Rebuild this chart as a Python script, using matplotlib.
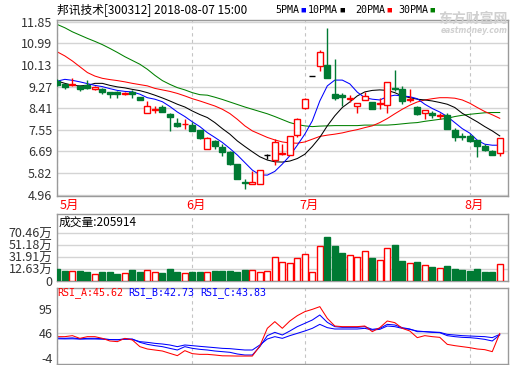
import matplotlib
matplotlib.use("Agg")
import matplotlib.pyplot as plt
from matplotlib.patches import Rectangle

plt.rcParams['font.family'] = ['Noto Sans CJK SC', 'DejaVu Sans']

# daily candles, 2018-05-02 .. 2018-08-07
opens = [9.51, 9.38, 9.33, 9.30, 9.32, 9.16, 9.19, 9.06, 9.06, 8.97,
         9.04, 8.86, 8.21, 8.35, 8.47, 8.20, 7.82, 7.77, 7.76, 7.55,
         6.78, 7.09, 6.85, 6.68, 6.19, 5.47, 5.41, 5.41, 6.55, 6.36,
         6.59, 6.56, 7.34, 8.41, 9.69, 10.09, 10.12, 8.97, 8.95, 8.76,
         8.50, 8.74, 8.64, 8.59, 8.53, 9.22, 9.19, 8.73, 8.45, 8.24,
         8.24, 8.12, 8.13, 7.54, 7.30, 7.31, 7.14, 6.91, 6.71, 6.62]
highs = [9.59, 9.39, 9.60, 9.31, 9.52, 9.28, 9.22, 9.07, 9.11, 9.05,
         9.12, 8.87, 8.68, 8.48, 8.54, 8.21, 8.04, 7.99, 7.86, 7.56,
         7.25, 7.15, 6.98, 6.70, 6.19, 5.59, 5.92, 5.95, 6.58, 7.18,
         6.98, 7.29, 8.01, 8.83, 9.69, 10.71, 11.61, 10.38, 9.03, 8.93,
         8.60, 9.06, 8.67, 8.83, 9.47, 9.92, 9.30, 9.16, 8.48, 8.33,
         8.30, 8.24, 8.21, 7.64, 7.42, 7.38, 7.14, 6.98, 6.73, 7.21]
lows = [9.30, 9.19, 9.30, 9.08, 9.19, 9.13, 8.99, 8.83, 8.83, 8.93,
        8.83, 8.74, 8.21, 8.21, 8.26, 7.52, 7.68, 7.59, 7.50, 7.19,
        6.78, 6.78, 6.52, 6.17, 5.59, 5.20, 5.40, 5.40, 6.40, 6.16,
        6.56, 6.56, 7.25, 8.37, 9.69, 9.89, 9.60, 8.74, 8.50, 8.64,
        8.21, 8.74, 8.37, 8.37, 8.24, 9.10, 8.56, 8.66, 8.13, 7.97,
        8.04, 8.00, 7.57, 7.10, 7.13, 7.07, 6.49, 6.71, 6.55, 6.52]
closes = [9.35, 9.27, 9.36, 9.16, 9.22, 9.27, 9.06, 8.98, 8.98, 9.03,
          8.99, 8.75, 8.48, 8.37, 8.27, 8.07, 7.70, 7.79, 7.52, 7.21,
          7.21, 6.92, 6.68, 6.19, 5.59, 5.44, 5.46, 5.94, 6.55, 7.05,
          6.63, 7.29, 8.00, 8.79, 9.69, 10.66, 9.63, 8.83, 8.87, 8.80,
          8.60, 8.90, 8.40, 8.63, 9.47, 9.19, 8.70, 8.76, 8.17, 8.33,
          8.14, 8.15, 7.57, 7.27, 7.27, 7.11, 6.91, 6.75, 6.56, 7.21]

ma5 = [9.49, 9.56, 9.52, 9.46, 9.39, 9.32, 9.27, 9.19, 9.12, 9.08,
       9.06, 8.97, 8.83, 8.77, 8.67, 8.48, 8.26, 8.08, 7.87, 7.68,
       7.44, 7.25, 7.05, 6.81, 6.55, 6.25, 5.95, 5.76, 5.75, 5.90,
       6.19, 6.52, 6.94, 7.38, 7.91, 8.70, 9.30, 9.53, 9.53, 9.38,
       9.05, 8.83, 8.77, 8.74, 8.87, 8.93, 8.90, 8.87, 8.79, 8.57,
       8.40, 8.26, 8.08, 7.84, 7.60, 7.42, 7.14, 6.98, 6.94, 6.94]
ma10 = [9.49, 9.40, 9.32, 9.30, 9.32, 9.40, 9.40, 9.32, 9.26, 9.22,
        9.16, 9.11, 9.03, 8.93, 8.82, 8.70, 8.57, 8.46, 8.30, 8.16,
        8.04, 7.84, 7.60, 7.38, 7.11, 6.89, 6.68, 6.48, 6.35, 6.28,
        6.27, 6.31, 6.41, 6.58, 6.89, 7.25, 7.71, 8.11, 8.44, 8.66,
        8.90, 9.06, 9.12, 9.14, 9.12, 9.03, 8.90, 8.83, 8.77, 8.74,
        8.70, 8.64, 8.57, 8.44, 8.21, 8.04, 7.87, 7.68, 7.51, 7.31]
ma20 = [10.65, 10.49, 10.29, 10.06, 9.83, 9.69, 9.60, 9.55, 9.51, 9.46,
        9.40, 9.35, 9.30, 9.20, 9.14, 9.08, 9.00, 8.90, 8.79, 8.70,
        8.60, 8.50, 8.37, 8.20, 7.97, 7.71, 7.51, 7.38, 7.25, 7.15,
        7.07, 7.03, 7.02, 7.07, 7.18, 7.29, 7.34, 7.38, 7.43, 7.50,
        7.56, 7.64, 7.71, 7.84, 8.00, 8.19, 8.37, 8.53, 8.66, 8.74,
        8.79, 8.83, 8.83, 8.81, 8.74, 8.61, 8.44, 8.28, 8.15, 8.01]
ma30 = [11.74, 11.61, 11.45, 11.32, 11.19, 11.07, 10.94, 10.79, 10.63, 10.46,
        10.31, 10.16, 9.96, 9.72, 9.51, 9.36, 9.23, 9.14, 9.03, 8.95,
        8.93, 8.85, 8.76, 8.66, 8.56, 8.46, 8.37, 8.28, 8.19, 8.08,
        7.96, 7.84, 7.76, 7.71, 7.68, 7.70, 7.71, 7.72, 7.72, 7.72,
        7.72, 7.74, 7.74, 7.74, 7.74, 7.76, 7.79, 7.82, 7.84, 7.89,
        7.93, 7.97, 8.01, 8.08, 8.13, 8.17, 8.20, 8.23, 8.24, 8.24]

# volume in 万 (10k lots)
volume = [11.26, 7.99, 8.55, 7.99, 6.37, 4.20, 6.37, 6.37, 3.11, 5.83,
          9.63, 6.37, 10.72, 6.37, 4.75, 11.26, 6.37, 5.83, 6.37, 6.37,
          7.46, 7.99, 7.99, 7.99, 6.37, 9.63, 10.72, 6.37, 9.09, 31.90,
          23.75, 22.12, 30.27, 36.79, 7.46, 49.82, 63.40, 48.74, 37.33, 35.16,
          31.90, 41.68, 29.18, 27.01, 46.56, 50.36, 24.30, 22.12, 22.67, 18.87,
          15.06, 12.89, 16.15, 11.26, 9.63, 7.99, 11.26, 6.37, 6.37, 20.59]

rsi_a = [39.3, 39.3, 41.3, 35.9, 39.3, 39.3, 35.9, 30.6, 29.3, 35.9,
         32.6, 19.3, 14.6, 12.6, 10.6, 5.9, 1.3, 11.3, 5.3, 3.9,
         3.9, 2.6, 1.0, 0.8, 0.5, 0.5, 0.5, 20.6, 56.0, 69.3,
         56.0, 70.6, 81.3, 89.3, 93.9, 99.3, 75.9, 60.6, 59.3, 59.3,
         59.3, 60.6, 49.3, 57.3, 70.6, 67.3, 56.0, 50.6, 37.3, 41.3,
         39.3, 37.9, 23.9, 21.3, 19.3, 17.3, 14.6, 13.3, 9.3, 45.62]
rsi_b = [36.5, 36.0, 36.8, 35.0, 35.9, 36.0, 35.2, 33.5, 33.0, 35.0,
         34.5, 27.9, 23.9, 21.3, 19.3, 15.9, 12.6, 19.3, 15.9, 13.9,
         12.6, 10.6, 9.3, 8.0, 4.6, 2.6, 2.6, 19.3, 41.3, 47.9,
         42.6, 50.6, 59.3, 65.9, 72.6, 82.6, 67.9, 59.3, 57.9, 57.9,
         57.9, 59.3, 53.9, 55.9, 63.9, 62.6, 57.3, 54.6, 49.3, 49.3,
         47.9, 47.3, 41.3, 39.3, 37.9, 37.3, 35.9, 33.9, 30.6, 42.73]
rsi_c = [35.0, 34.8, 35.0, 34.4, 34.6, 34.6, 34.2, 33.5, 33.2, 34.0,
         33.8, 29.3, 27.9, 25.9, 24.6, 22.6, 19.3, 22.6, 21.3, 19.9,
         18.6, 17.3, 15.9, 15.3, 13.9, 12.6, 12.6, 22.6, 34.6, 39.3,
         35.9, 41.3, 45.9, 50.6, 55.9, 63.9, 57.3, 54.6, 54.6, 54.6,
         54.6, 55.9, 52.6, 53.9, 60.6, 59.3, 55.9, 53.9, 50.6, 49.3,
         48.6, 47.9, 43.9, 42.6, 41.3, 40.6, 39.9, 39.3, 37.3, 43.83]

month_idx = [0, 18, 33, 55]
month_names = ['5月', '6月', '7月', '8月']
price_ticks = [4.96, 5.82, 6.69, 7.55, 8.41, 9.27, 10.13, 10.99, 11.85]
vol_ticks = [-6.65, 12.63, 31.91, 51.18, 70.46]
vol_labels = ['0', '12.63万', '31.91万', '51.18万', '70.46万']
rsi_ticks = [-4, 46, 95]

RED = '#ff0000'
GREEN = '#007a33'
FRAME = '#9a9a9a'
GRID = '#d4d4d4'
VLINE = '#c4c4c4'

W, H = 520, 365
fig = plt.figure(figsize=(W / 100, H / 100), dpi=100)


def box(l, t, r, b):
    return [l / W, 1 - b / H, (r - l) / W, (b - t) / H]


ax = fig.add_axes(box(56.5, 20, 508, 195.5))
axv = fig.add_axes(box(56.5, 214, 508, 280.5))
axr = fig.add_axes(box(56.5, 288, 508, 364))

n = len(closes)
for a in (ax, axv, axr):
    a.set_xlim(-0.12, n + 0.1)
    a.set_xticks([])
    for s in a.spines.values():
        s.set_color(FRAME)
        s.set_linewidth(1.0)
    a.tick_params(axis='y', length=0, pad=3, labelsize=9, labelcolor='#333333')
    for m in month_idx:
        a.axvline(m, color=VLINE, lw=0.8, ls=(0, (3, 3)), zorder=0)

# price panel
ax.set_ylim(4.94, 11.92)
ax.set_yticks(price_ticks)
ax.set_yticklabels(['%.2f' % t for t in price_ticks])
ax.grid(axis='y', color=GRID, lw=1.0, zorder=0)

bw = 0.8
for i in range(n):
    o, h, l, c = opens[i], highs[i], lows[i], closes[i]
    if c > o:
        col, face = RED, 'white'
    elif c < o:
        col, face = GREEN, GREEN
    else:
        col, face = 'black', 'black'
    top, bot = max(o, c), min(o, c)
    ax.vlines(i, top, h, color=col, lw=1.0, zorder=3)
    ax.vlines(i, l, bot, color=col, lw=1.0, zorder=3)
    if c == o:
        ax.hlines(c, i - bw / 2, i + bw / 2, color=col, lw=1.0, zorder=4)
    else:
        ax.add_patch(Rectangle((i - bw / 2, bot), bw, top - bot, facecolor=face,
                               edgecolor=col, lw=1.0, zorder=4))

x = list(range(n))
ax.plot(x, ma30, color='#008000', lw=0.75, zorder=2)
ax.plot(x, ma20, color=RED, lw=0.75, zorder=2)
ax.plot(x, ma10, color='black', lw=0.75, zorder=2)
ax.plot(x, ma5, color='#0000ff', lw=0.75, zorder=2)

for m, name in zip(month_idx, month_names):
    if m == 0:
        ax.text(m + 0.3, -0.054, name, transform=ax.get_xaxis_transform(),
                ha='left', va='center', color=RED, fontsize=9)
    else:
        ax.text(m + 0.55, -0.054, name, transform=ax.get_xaxis_transform(),
                ha='center', va='center', color=RED, fontsize=9)

# volume panel
vmin = vol_ticks[0]
axv.set_ylim(vmin, 101.4)
axv.set_yticks(vol_ticks)
axv.set_yticklabels(vol_labels)
axv.grid(axis='y', color=GRID, lw=1.0, zorder=0)
for i in range(n):
    up = closes[i] >= opens[i]
    axv.bar(i, volume[i] - vmin, bottom=vmin, width=bw,
            color='white' if up else GREEN, edgecolor=RED if up else GREEN,
            lw=1.0, zorder=3)
axv.text(0.004, 0.88, '成交量:205914', transform=axv.transAxes,
         ha='left', va='center', fontsize=8.5, color='black')

# RSI panel
axr.set_ylim(-15.4, 136.6)
axr.set_yticks(rsi_ticks)
axr.set_yticklabels([str(t) for t in rsi_ticks])
axr.axhline(46, color=GRID, lw=1.0, zorder=0)
axr.plot(x, rsi_c, color='#0000ff', lw=0.75)
axr.plot(x, rsi_b, color='#0000ff', lw=0.75)
axr.plot(x, rsi_a, color=RED, lw=0.75)
rsi_titles = [('RSI_A:45.62', RED, 57.5), ('RSI_B:42.73', '#0000ff', 128.5),
              ('RSI_C:43.83', '#0000ff', 200.5)]
for label, col, px in rsi_titles:
    fig.text(px / W, 1 - 293 / H, label, ha='left', va='center',
             fontsize=7.2, color=col, family='DejaVu Sans Mono')

# header
fig.text(57 / W, 1 - 10 / H, '邦讯技术[300312] 2018-08-07 15:00',
         ha='left', va='center', fontsize=8.5, color='black')
legend_items = [('5PMA', '#0000ff', 275), ('10PMA', 'black', 308),
                ('20PMA', RED, 355), ('30PMA', '#008000', 398)]
for name, col, px in legend_items:
    fig.text(px / W, 1 - 10 / H, name, ha='left', va='center',
             fontsize=7.2, color='black', family='DejaVu Sans Mono')
    fig.text((px + 6.0 * len(name) + 1) / W, 1 - 10 / H, '■', ha='left',
             va='center', fontsize=4, color=col)

# watermark
fig.text(473 / W, 1 - 19 / H, '东方财富网', ha='center', va='center',
         fontsize=10, color='#d0d0d0', fontweight='bold')
fig.text(474 / W, 1 - 30.5 / H, 'eastmoney.com', ha='center', va='center',
         fontsize=5.5, color='#d0d0d0', fontweight='bold', style='italic',
         family='DejaVu Sans')

fig.savefig('out.png', dpi=100)
